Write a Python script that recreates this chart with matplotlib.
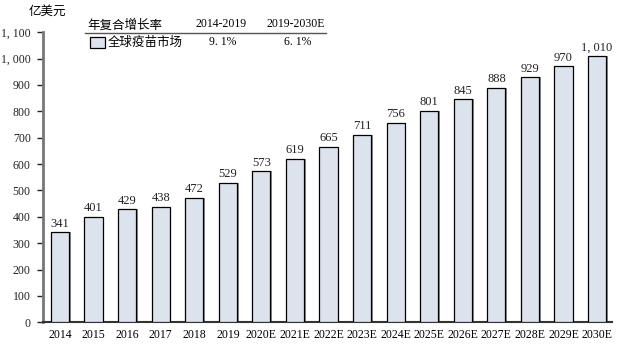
import matplotlib.pyplot as plt
from matplotlib.patches import Rectangle
from matplotlib.ticker import FuncFormatter

# Global vaccine market size, 100 million USD
years = ["2014", "2015", "2016", "2017", "2018", "2019", "2020E", "2021E",
         "2022E", "2023E", "2024E", "2025E", "2026E", "2027E", "2028E",
         "2029E", "2030E"]
market = [341, 401, 429, 438, 472, 529, 573, 619, 665, 711, 756, 801,
          845, 888, 929, 970, 1010]
y_ticks = [0, 100, 200, 300, 400, 500, 600, 700, 800, 900, 1000, 1100]
cagr_periods = ["2014-2019", "2019-2030E"]
cagr_values = ["9. 1%", "6. 1%"]

FONT = ["Liberation Serif", "Noto Sans CJK SC", "DejaVu Sans"]
plt.rcParams["font.family"] = FONT

BAR_FACE = "#dde3ec"


def fmt_num(v):
    return f"{int(v):,}".replace(",", ", ")


fig = plt.figure(figsize=(6.26, 3.5), dpi=100)
ax = fig.add_axes([0.069, 0.079, 0.909, 0.829])

x = list(range(len(years)))
# gray shadow on the right side of each bar
ax.bar([i + 0.05 for i in x], market, width=0.54, color="#8c8c8c",
       linewidth=0, zorder=2)
ax.bar(x, market, width=0.54, color=BAR_FACE, edgecolor="black",
       linewidth=0.9, zorder=3)

for i, v in zip(x, market):
    ax.text(i, v + 10, fmt_num(v), ha="center", va="bottom", fontsize=9,
            color="#222222")

ax.set_xlim(-0.5, 16.45)
ax.set_ylim(0, 1100)
ax.set_yticks(y_ticks)
ax.yaxis.set_major_formatter(FuncFormatter(lambda v, p: fmt_num(v)))
ax.set_xticks(x)
ax.set_xticklabels(years)
ax.tick_params(axis="x", length=0, labelsize=8.5, pad=5)
ax.tick_params(axis="y", length=4, width=1, direction="out", labelsize=8.5,
               pad=5, colors="#222222")

for s in ["top", "right"]:
    ax.spines[s].set_visible(False)
ax.spines["left"].set_color("#777777")
ax.spines["left"].set_linewidth(2)
ax.spines["bottom"].set_color("#333333")
ax.spines["bottom"].set_linewidth(1.5)

# unit label
fig.text(0.045, 0.965, "亿美元", fontsize=9, ha="left", va="center")

# CAGR legend table
fig.text(0.14, 0.928, "年复合增长率", fontsize=9, ha="left", va="center")
fig.text(0.353, 0.932, cagr_periods[0], fontsize=8.5, ha="center", va="center")
fig.text(0.472, 0.932, cagr_periods[1], fontsize=8.5, ha="center", va="center")
fig.add_artist(plt.Line2D([0.135, 0.52], [0.906, 0.906], color="#555555",
                          linewidth=1, transform=fig.transFigure))
fig.add_artist(Rectangle((0.143, 0.862), 0.024, 0.032, facecolor=BAR_FACE,
                         edgecolor="black", linewidth=0.9,
                         transform=fig.transFigure))
fig.text(0.172, 0.877, "全球疫苗市场", fontsize=9, ha="left", va="center")
fig.text(0.356, 0.879, cagr_values[0], fontsize=8.5, ha="center", va="center")
fig.text(0.475, 0.879, cagr_values[1], fontsize=8.5, ha="center", va="center")

fig.savefig("out.png", dpi=100)
